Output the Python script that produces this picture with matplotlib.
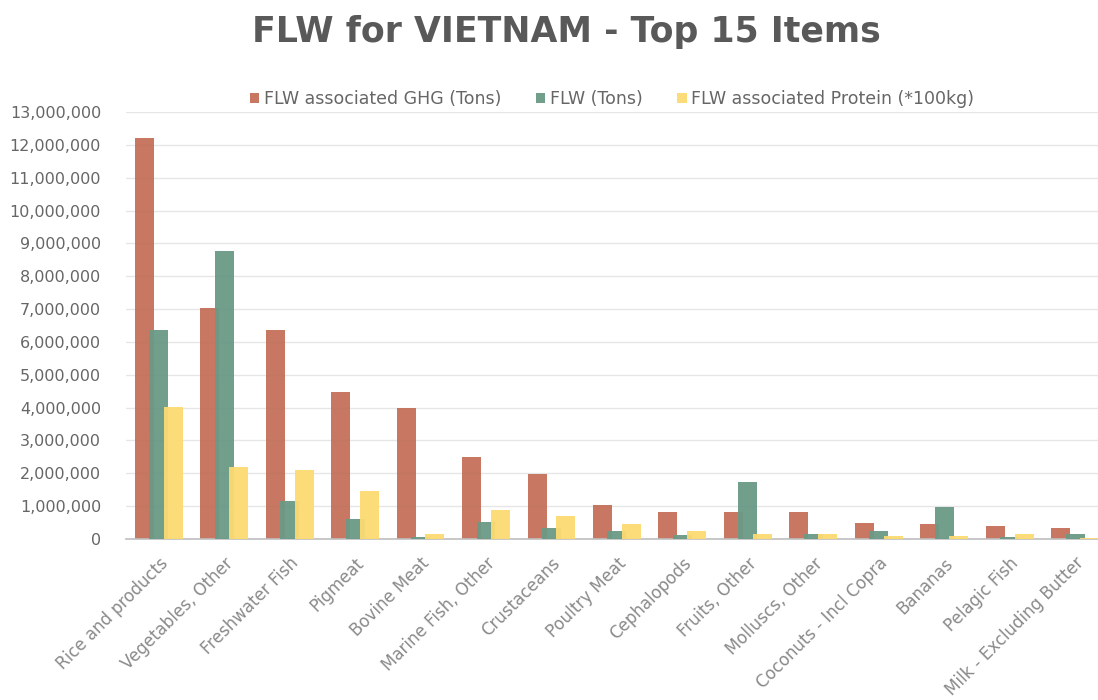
import matplotlib
matplotlib.use("Agg")
import matplotlib.pyplot as plt
import numpy as np
from matplotlib.ticker import FuncFormatter, MultipleLocator

plt.rcParams["font.family"] = ["DejaVu Sans"]

categories = ["Rice and products", "Vegetables, Other", "Freshwater Fish", "Pigmeat",
              "Bovine Meat", "Marine Fish, Other", "Crustaceans", "Poultry Meat",
              "Cephalopods", "Fruits, Other", "Molluscs, Other", "Coconuts - Incl Copra",
              "Bananas", "Pelagic Fish", "Milk - Excluding Butter"]
ghg = [12200000, 7030000, 6370000, 4470000, 3980000, 2500000, 1970000, 1030000,
       830000, 820000, 810000, 500000, 450000, 390000, 330000]
flw = [6370000, 8780000, 1170000, 600000, 70000, 510000, 350000, 230000,
       130000, 1750000, 160000, 230000, 960000, 60000, 140000]
protein = [4030000, 2190000, 2110000, 1460000, 150000, 890000, 690000, 470000,
           230000, 160000, 160000, 90000, 100000, 150000, 20000]
series_names = ["FLW associated GHG (Tons)", "FLW (Tons)", "FLW associated Protein (*100kg)"]
colors = ["#C4705A", "#6A9986", "#FCDB72"]

fig = plt.figure(figsize=(10.98, 7.0), dpi=100)
ax = fig.add_axes([126/1098, 1 - 539/700, (1098 - 126)/1098, (539 - 112)/700])

x = np.arange(len(categories))
w = 0.29
off = 0.22
for i, (vals, c, name) in enumerate(zip([ghg, flw, protein], colors, series_names)):
    ax.bar(x + (i - 1) * off, vals, width=w, color=c, label=name, zorder=2 + i, alpha=0.95)

ax.set_ylim(0, 13000000)
ax.set_xlim(-0.5, 14.35)
ax.yaxis.set_major_locator(MultipleLocator(1000000))
ax.yaxis.set_major_formatter(FuncFormatter(lambda v, p: f"{int(v):,}"))
ax.grid(axis="y", color="#E6E6E6", linewidth=1, zorder=0)
ax.set_axisbelow(True)
for s in ["top", "right", "left"]:
    ax.spines[s].set_visible(False)
ax.spines["bottom"].set_color("#BFBFBF")
ax.spines["bottom"].set_linewidth(1.2)
ax.tick_params(axis="y", length=0, labelsize=11.5, labelcolor="#666666", pad=18)
ax.tick_params(axis="x", length=0, labelsize=12, labelcolor="#8A8A8A", pad=11)
ax.set_xticks(x)
ax.set_xticklabels(categories, rotation=45, ha="right", rotation_mode="anchor")

leg = fig.legend(loc="center", bbox_to_anchor=(612/1098, 1 - 99/700), ncol=3,
                 frameon=False, fontsize=12.5, handlelength=0.55, handleheight=0.55,
                 handletextpad=0.25, columnspacing=2.0)
for t in leg.get_texts():
    t.set_color("#666666")

fig.text(566/1098, 1 - 32/700, "FLW for VIETNAM - Top 15 Items", ha="center", va="center",
         fontsize=25, fontweight="bold", color="#595959")

fig.savefig("out.png", dpi=100, facecolor="white")
